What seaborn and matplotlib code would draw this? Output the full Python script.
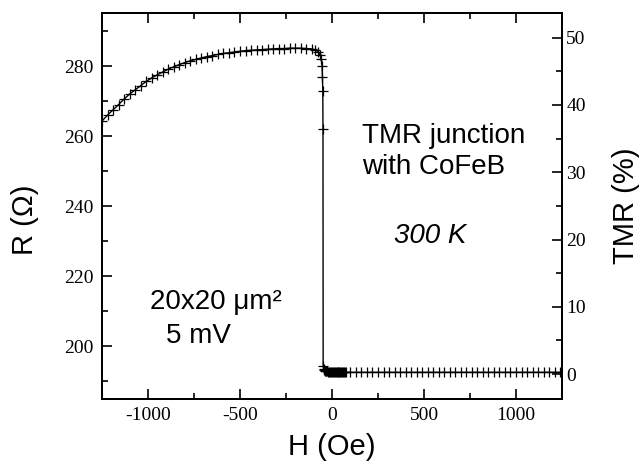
import numpy as np
import pandas as pd
import matplotlib
matplotlib.use("Agg")
import matplotlib.pyplot as plt
import seaborn as sns

# field sweep (Oe) and junction resistance (Ohm)
field_oe = [-1250, -1220, -1190, -1160, -1130, -1100, -1070, -1040, -1010, -980,
            -950, -920, -890, -860, -830, -800, -770, -740, -710, -680,
            -650, -620, -590, -560, -530, -500, -470, -440, -410, -380,
            -350, -320, -290, -260, -230, -200, -170, -140, -110, -90,
            -75, -65, -58, -54, -52, -50, -49, -48, -46, -44,
            -40, -35, -30, -25, -20, -15, -10, -5, 0, 5,
            10, 15, 20, 25, 30, 35, 40, 45, 50, 55,
            60, 65, 70, 75, 100, 130, 160, 190, 220, 250,
            280, 310, 340, 370, 400, 430, 460, 490, 520, 550,
            580, 610, 640, 670, 700, 730, 760, 790, 820, 850,
            880, 910, 940, 970, 1000, 1030, 1060, 1090, 1120, 1150,
            1180, 1210, 1240]
resistance = [264.3, 266.0, 267.5, 269.0, 270.6, 272.0, 273.2, 274.4, 275.6, 276.6,
              277.5, 278.3, 279.1, 279.8, 280.4, 281.0, 281.5, 281.9, 282.3, 282.7,
              283.0, 283.3, 283.6, 283.8, 284.0, 284.2, 284.4, 284.5, 284.6, 284.7,
              284.8, 284.9, 285.0, 285.0, 285.1, 285.1, 285.1, 285.0, 284.9, 284.6,
              284.0, 283.2, 282.0, 280.0, 277.0, 273.0, 262.0, 194.5, 193.6, 193.3,
              193.1, 193.0, 192.9, 192.9, 192.8, 192.8, 192.8, 192.7, 192.7, 192.7,
              192.7, 192.7, 192.7, 192.7, 192.7, 192.7, 192.6, 192.6, 192.6, 192.6,
              192.6, 192.6, 192.6, 192.6, 192.6, 192.6, 192.6, 192.6, 192.6, 192.6,
              192.6, 192.6, 192.6, 192.6, 192.6, 192.6, 192.6, 192.6, 192.6, 192.6,
              192.6, 192.6, 192.6, 192.6, 192.6, 192.6, 192.6, 192.6, 192.6, 192.6,
              192.6, 192.6, 192.6, 192.6, 192.6, 192.6, 192.6, 192.6, 192.6, 192.6,
              192.6, 192.6, 192.6]

x_ticks = [-1000, -500, 0, 500, 1000]
r_ticks = [200, 220, 240, 260, 280]
tmr_ticks = [0, 10, 20, 30, 40, 50]

df = pd.DataFrame({"H": field_oe, "R": resistance})

sns.set_style("ticks")
plt.rcParams["font.family"] = ["Liberation Serif", "DejaVu Serif"]
plt.rcParams["text.color"] = "black"
plt.rcParams["axes.labelcolor"] = "black"
plt.rcParams["xtick.color"] = "black"
plt.rcParams["ytick.color"] = "black"

fig = plt.figure(figsize=(6.39, 4.70), dpi=100)
ax = fig.add_axes([0.1596, 0.1511, 0.7199, 0.8202])

sns.lineplot(data=df, x="H", y="R", ax=ax, color="black", marker="+",
             markersize=7, markeredgewidth=0.9, markeredgecolor="black",
             linewidth=1.0, sort=False, estimator=None)

ax.set_xlim(-1250, 1240)
ax.set_ylim(185, 295)
ax.set_xticks(x_ticks)
ax.set_xticklabels([str(t) for t in x_ticks])
ax.set_yticks(r_ticks)
ax.set_xticks([-1250, -750, -250, 250, 750, 1250], minor=True)
ax.set_yticks([190, 210, 230, 250, 270, 290], minor=True)
ax.tick_params(which="both", direction="in", top=True, right=False,
               labelsize=14, width=1.2, colors="black")
ax.tick_params(which="major", length=7, pad=6)
ax.tick_params(which="minor", length=4)
for s in ax.spines.values():
    s.set_linewidth(1.4)
    s.set_color("black")
    s.set_visible(True)

sans = ["Liberation Sans", "DejaVu Sans"]
ax.set_xlabel("H (Oe)", fontsize=21, family=sans, labelpad=6, color="black")
ax.set_ylabel("R (Ω)", fontsize=21, family=sans, color="black")
ax.yaxis.set_label_coords(-0.137, 0.464)

ax2 = ax.twinx()
ax2.set_ylim(-3.7, 53.6)
ax2.set_yticks(tmr_ticks)
ax2.set_yticks([5, 15, 25, 35, 45], minor=True)
ax2.tick_params(which="both", direction="in", labelsize=14, width=1.2, colors="black")
ax2.tick_params(which="major", length=7, pad=3)
ax2.tick_params(which="minor", length=4)
ax2.set_ylabel("TMR (%)", fontsize=21, family=sans, color="black")
ax2.yaxis.set_label_coords(1.108, 0.5)
for s in ax2.spines.values():
    s.set_linewidth(1.4)
    s.set_color("black")

ax.text(164, 258.0, "TMR junction", fontsize=20, family=sans, va="baseline", color="black")
ax.text(164, 249.1, "with CoFeB", fontsize=20, family=sans, va="baseline", color="black")
ax.text(337, 229.6, "300 K", fontsize=20, family=sans, style="italic", va="baseline", color="black")
ax.text(-990, 210.8, "20x20 μm²", fontsize=20, family=sans, va="baseline", color="black")
ax.text(-903, 200.9, "5 mV", fontsize=20, family=sans, va="baseline", color="black")

fig.savefig("out.png", dpi=100)
